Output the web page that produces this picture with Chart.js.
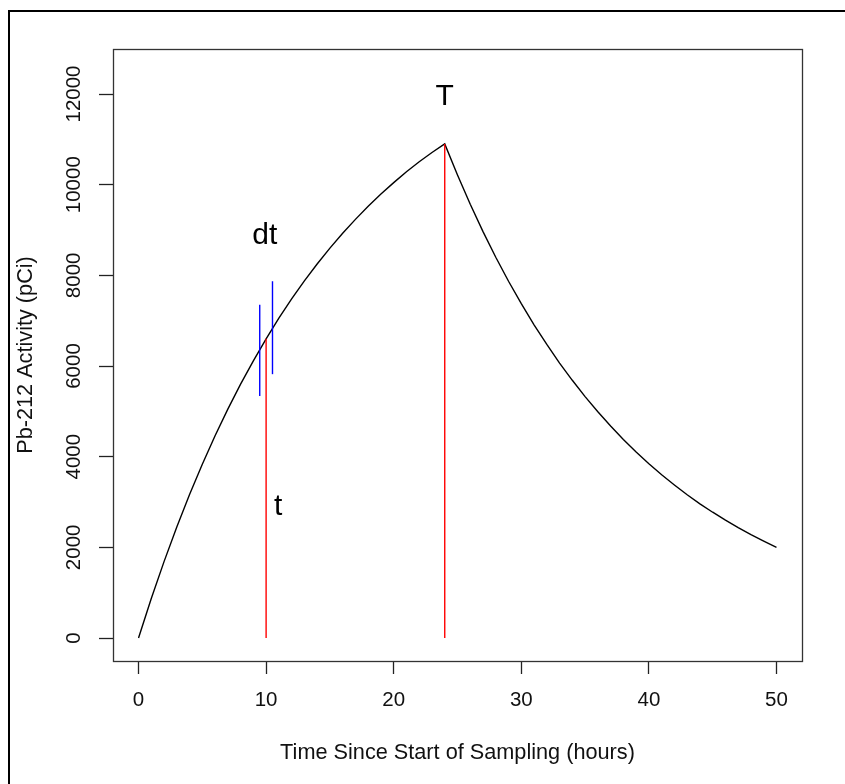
<!DOCTYPE html>
<html>
<head>
<meta charset="utf-8">
<script src="https://cdn.jsdelivr.net/npm/chart.js@4"></script>
<style>
html,body{margin:0;padding:0;background:#fff;}
#wrap{position:relative;width:845px;height:784px;}
</style>
</head>
<body>
<div id="wrap"><canvas id="c" width="845" height="784"></canvas></div>
<script>
// Time since start of sampling (hours)
const hours = [0,1,2,3,4,5,6,7,8,9,10,11,12,13,14,15,16,17,18,19,20,21,22,23,24,25,26,27,28,29,30,31,32,33,34,35,36,37,38,39,40,41,42,43,44,45,46,47,48,49,50];
// Pb-212 activity (pCi)
const activity = [0,870,1685,2450,3165,3835,4460,5050,5600,6115,6600,7055,7480,7880,8250,8600,8930,9235,9525,9795,10045,10285,10505,10710,10900,10215,9570,8965,8400,7870,7375,6910,6475,6065,5685,5325,4990,4675,4380,4105,3845,3600,3375,3160,2960,2775,2600,2435,2280,2140,2000];
// marker lines
const redX = [10, 24];
const redTop = [6600, 10900];
const blueX = [9.5, 10.5];
const blueLow = [5340, 5820];
const blueHigh = [7350, 7870];
// annotations
const labelText = ["T", "dt", "t"];
const labelX = [24, 9.9, 10.95];
const labelY = [11930, 8880, 2900];
// ticks
const xTicks = [0, 10, 20, 30, 40, 50];
const yTicks = [0, 2000, 4000, 6000, 8000, 10000, 12000];
const xTitle = "Time Since Start of Sampling (hours)";
const yTitle = "Pb-212 Activity (pCi)";

const FONT = "'Liberation Sans', Arial, sans-serif";

const curve = hours.map((h, i) => ({x: h, y: activity[i]}));
const datasets = [];
blueX.forEach((bx, i) => datasets.push({
  data: [{x: bx, y: blueLow[i]}, {x: bx, y: blueHigh[i]}],
  showLine: true, borderColor: '#0000ff', borderWidth: 1.4, pointRadius: 0
}));
redX.forEach((rx, i) => datasets.push({
  data: [{x: rx, y: 0}, {x: rx, y: redTop[i]}],
  showLine: true, borderColor: '#ff0000', borderWidth: 1.4, pointRadius: 0
}));
datasets.push({
  data: curve, showLine: true, borderColor: '#000000', borderWidth: 1.4,
  pointRadius: 0, tension: 0
});

const decor = {
  id: 'decor',
  afterDraw(chart) {
    const ctx = chart.ctx, a = chart.chartArea;
    const xs = chart.scales.x, ys = chart.scales.y;
    ctx.save();
    // outer frame (left & top visible)
    ctx.strokeStyle = '#000'; ctx.lineWidth = 2;
    ctx.beginPath();
    ctx.moveTo(9, 784); ctx.lineTo(9, 11); ctx.lineTo(845, 11);
    ctx.stroke();
    // plot box
    ctx.strokeStyle = '#333'; ctx.lineWidth = 1.3;
    ctx.strokeRect(Math.round(a.left) + 0.5, Math.round(a.top) + 0.5,
                   Math.round(a.right - a.left), Math.round(a.bottom - a.top));
    // tick labels
    ctx.fillStyle = '#111';
    ctx.font = '20.5px ' + FONT;
    ctx.textAlign = 'center'; ctx.textBaseline = 'middle';
    xTicks.forEach(v => ctx.fillText(String(v), xs.getPixelForValue(v), 700));
    yTicks.forEach(v => {
      ctx.save();
      ctx.translate(74.5, ys.getPixelForValue(v));
      ctx.rotate(-Math.PI / 2);
      ctx.fillText(String(v), 0, 0);
      ctx.restore();
    });
    // axis titles
    ctx.font = '21.7px ' + FONT;
    ctx.fillText(xTitle, (a.left + a.right) / 2, 753);
    ctx.save();
    ctx.translate(26, (a.top + a.bottom) / 2);
    ctx.rotate(-Math.PI / 2);
    ctx.fillText(yTitle, 0, 0);
    ctx.restore();
    // annotations
    ctx.fillStyle = '#000';
    ctx.font = '30px ' + FONT;
    labelText.forEach((t, i) => ctx.fillText(t, xs.getPixelForValue(labelX[i]), ys.getPixelForValue(labelY[i])));
    ctx.restore();
  }
};

new Chart(document.getElementById('c'), {
  type: 'scatter',
  data: { datasets },
  options: {
    responsive: false,
    animation: false,
    events: [],
    layout: { padding: { top: 49, right: 43, left: 0, bottom: 0 } },
    plugins: { legend: { display: false }, tooltip: { enabled: false } },
    scales: {
      x: {
        type: 'linear', min: -2, max: 52,
        afterBuildTicks: s => { s.ticks = xTicks.map(v => ({value: v})); },
        afterFit: s => { s.height = 784 - 661; },
        ticks: { display: false },
        grid: { drawOnChartArea: false, drawTicks: true, tickLength: 13, tickColor: '#222', tickWidth: 1.3 },
        border: { display: false }
      },
      y: {
        type: 'linear', min: -507, max: 12993,
        afterBuildTicks: s => { s.ticks = yTicks.map(v => ({value: v})); },
        afterFit: s => { s.width = 113; },
        ticks: { display: false },
        grid: { drawOnChartArea: false, drawTicks: true, tickLength: 14, tickColor: '#222', tickWidth: 1.3 },
        border: { display: false }
      }
    }
  },
  plugins: [decor]
});
</script>
</body>
</html>
